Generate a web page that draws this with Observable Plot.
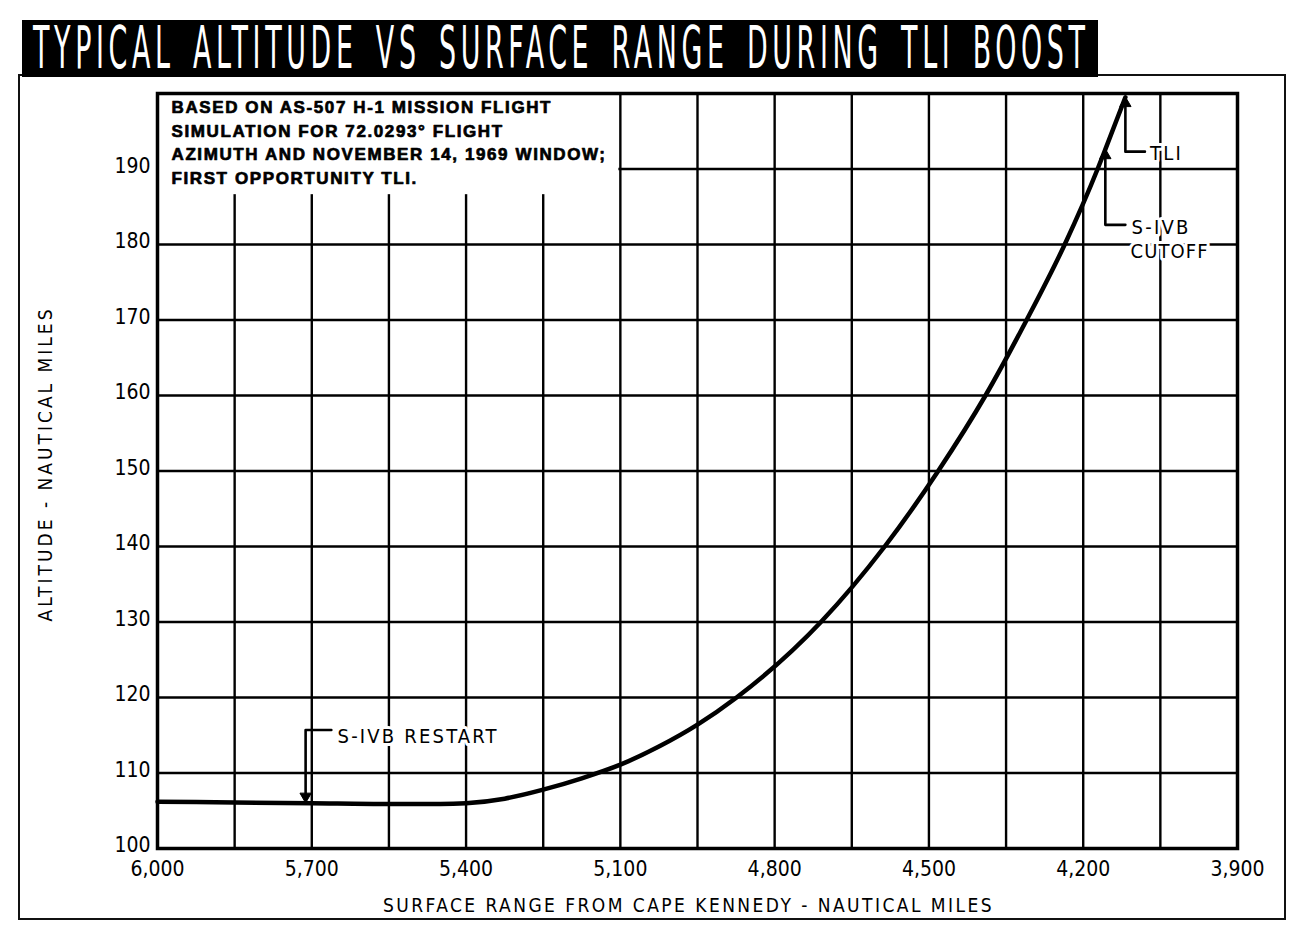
<!DOCTYPE html>
<html>
<head>
<meta charset="utf-8">
<script src="https://cdn.jsdelivr.net/npm/d3@7"></script>
<script src="https://cdn.jsdelivr.net/npm/@observablehq/plot@0.6"></script>
<style>
  html, body { margin: 0; padding: 0; background: #fff; }
  #page { position: relative; width: 1310px; height: 938px; overflow: hidden; background: #fff; }
  #chart { position: absolute; left: 0; top: 0; }
  #frame { position: absolute; left: 18px; top: 74px; width: 1268px; height: 846px; border: 2.5px solid #111; box-sizing: border-box; pointer-events: none; }
  #banner { position: absolute; left: 22px; top: 20px; width: 1076px; height: 57px; background: #000; }
  #title { position: absolute; left: 33px; top: 16px; margin: 0; color: #fff; font-family: "DejaVu Sans Condensed", "Liberation Sans Narrow", "DejaVu Sans", sans-serif; font-stretch: condensed; font-weight: normal; font-size: 58px; line-height: 64px; white-space: nowrap; letter-spacing: 9px; word-spacing: 10px; transform-origin: left top; }
</style>
</head>
<body>
<div id="page">
  <div id="chart"></div>
  <div id="frame"></div>
  <div id="banner"></div>
  <h1 id="title">TYPICAL ALTITUDE VS SURFACE RANGE DURING TLI BOOST</h1>
</div>
<script>
// ---- data ----
const rangeNm    = [6000, 5850, 5700, 5550, 5450, 5400, 5325, 5250, 5175, 5100, 5025, 4950, 4874, 4710, 4586, 4482, 4390, 4310, 4236, 4172, 4157, 4118];
const altitudeNm = [106.2, 106.1, 106.0, 105.9, 105.9, 106.0, 106.6, 107.8, 109.3, 111.1, 113.5, 116.4, 120.0, 130.0, 140.0, 150.0, 160.0, 170.0, 180.0, 190.0, 192.6, 199.5];

const xTickValues = [6000, 5700, 5400, 5100, 4800, 4500, 4200, 3900];
const xGridValues = [6000, 5850, 5700, 5550, 5400, 5250, 5100, 4950, 4800, 4650, 4500, 4350, 4200, 4050, 3900];
const yTickValues = [100, 110, 120, 130, 140, 150, 160, 170, 180, 190];
const yGridValues = [100, 110, 120, 130, 140, 150, 160, 170, 180, 190, 200];

const noteLines = [
  "BASED ON AS-507 H-1 MISSION FLIGHT",
  "SIMULATION FOR 72.0293° FLIGHT",
  "AZIMUTH AND NOVEMBER 14, 1969 WINDOW;",
  "FIRST OPPORTUNITY TLI."
];

const eventNames  = ["S-IVB RESTART", "S-IVB CUTOFF", "TLI"];
const eventRange  = [5712, 4157, 4118];
const eventAlt    = [106.0, 192.6, 199.5];
const calloutBendAlt = [115.7, 182.6, 192.3];
const calloutEndRange = [5662, 4118, 4080];

const labelTexts = ["S-IVB RESTART", "S-IVB", "CUTOFF", "TLI"];
const labelRange = [5650, 4106, 4108, 4070];
const labelAlt   = [114.8, 182.3, 179.0, 192.0];

const xAxisTitle = "SURFACE RANGE FROM CAPE KENNEDY - NAUTICAL MILES";
const yAxisTitle = "ALTITUDE - NAUTICAL MILES";

// ---- derived tables ----
const trajectory = rangeNm.map((x, i) => ({x, y: altitudeNm[i]}));
const callouts = [];
eventNames.forEach((name, i) => {
  callouts.push({name, x: calloutEndRange[i], y: calloutBendAlt[i]});
  callouts.push({name, x: eventRange[i], y: calloutBendAlt[i]});
  callouts.push({name, x: eventRange[i], y: eventAlt[i] + (i === 0 ? 1.3 : -1.0)});
});
const heads = eventNames.map((name, i) => ({
  name, x: eventRange[i], y: eventAlt[i] + (i === 0 ? 0.9 : -0.8), rot: i === 0 ? 180 : 0
}));
const labels = labelTexts.map((t, i) => ({t, x: labelRange[i], y: labelAlt[i]}));

const condensed = "'DejaVu Sans Condensed', 'Liberation Sans Narrow', 'DejaVu Sans', sans-serif";
const gridStyle = {stroke: "#000", strokeOpacity: 1, strokeWidth: 2.4};

const chart = Plot.plot({
  width: 1310,
  height: 938,
  marginLeft: 157,
  marginRight: 73,
  marginTop: 93,
  marginBottom: 90,
  style: {background: "transparent", fontFamily: condensed, color: "#000"},
  x: {domain: [6000, 3900], label: null},
  y: {domain: [100, 200], label: null},
  marks: [
    Plot.gridX(xGridValues, gridStyle),
    Plot.gridY(yGridValues, gridStyle),
    // white note box covering the grid in the upper-left corner
    Plot.rect([0], {x1: () => 6000, x2: () => 5100, y1: () => 186.6, y2: () => 200, fill: "white", insetRight: 1.5, insetLeft: 1, insetTop: 1}),
    Plot.frame({stroke: "#000", strokeWidth: 3.5}),
    Plot.line(trajectory, {x: "x", y: "y", stroke: "#000", strokeWidth: 4.5, curve: "monotone-x"}),
    Plot.line(callouts, {x: "x", y: "y", z: "name", stroke: "#000", strokeWidth: 2.6}),
    Plot.dot(heads, {x: "x", y: "y", symbol: "triangle", rotate: "rot", r: 4.2, fill: "#000", stroke: "#000", strokeWidth: 1}),
    Plot.text(labels, {x: "x", y: "y", text: "t", textAnchor: "start", fontSize: 20, fontFamily: condensed, fill: "#000", stroke: "white", strokeWidth: 6}),
    Plot.text([noteLines.join("\n")], {frameAnchor: "top-left", dx: 14, dy: 3, lineAnchor: "top", textAnchor: "start", lineHeight: 1.38, fontSize: 17, fontWeight: "bold", fontFamily: "'Liberation Sans', Arial, sans-serif", fill: "#000", stroke: "#000", strokeWidth: 0.7}),
    Plot.axisX(xTickValues, {tickSize: 0, tickPadding: 13, tickFormat: d3.format(","), fontSize: 21, fontFamily: condensed, label: null}),
    Plot.axisY(yTickValues, {tickSize: 0, tickPadding: 7, dy: -3, fontSize: 21, fontFamily: condensed, label: null}),
    Plot.text([xAxisTitle], {frameAnchor: "bottom", dx: -9, dy: 57, lineAnchor: "middle", textAnchor: "middle", fontSize: 19, fontFamily: condensed, fill: "#000"}),
    Plot.text([yAxisTitle], {frameAnchor: "left", dx: -112, dy: -7, rotate: -90, lineAnchor: "middle", textAnchor: "middle", fontSize: 19, fontFamily: condensed, fill: "#000"})
  ]
});
document.getElementById("chart").appendChild(chart);

// letter spacing of the lettering-guide style texts
d3.select(chart).selectAll("text").each(function () {
  const t = this.textContent;
  let ls = null;
  if (t === xAxisTitle) ls = "2.45px";
  else if (t === yAxisTitle) ls = "3px";
  else if (t.startsWith("BASED ON")) ls = "1.6px";
  else if (t === "CUTOFF") ls = "1.1px";
  else if (labelTexts.includes(t)) ls = "2.2px";
  if (ls) this.style.letterSpacing = ls;
});

// fit the banner title to the banner width
const title = document.getElementById("title");
const w = title.getBoundingClientRect().width - 9;
title.style.transform = `scaleX(${1052 / w})`;
</script>
</body>
</html>
